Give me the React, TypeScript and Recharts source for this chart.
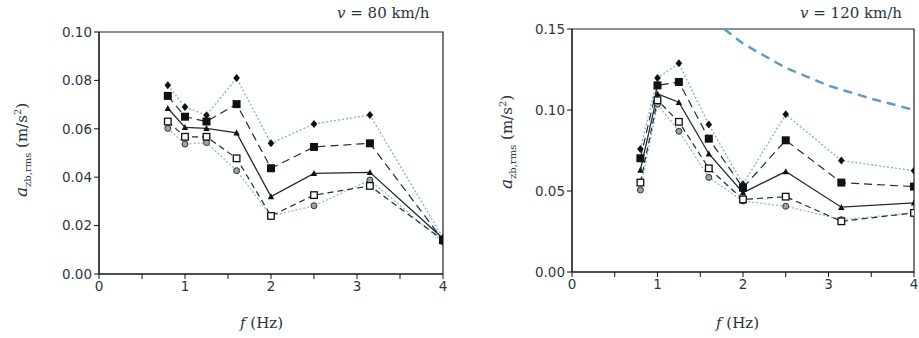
import React from "react";
import {
  ComposedChart,
  Line,
  XAxis,
  YAxis,
  ReferenceArea,
} from "recharts";

// third-octave centre frequencies (Hz)
const FREQ = [0.8, 1, 1.25, 1.6, 2, 2.5, 3.15, 4];

// v = 80 km/h
const V80_DIAMOND = [0.078, 0.069, 0.0656, 0.081, 0.054, 0.062, 0.0657, 0.015];
const V80_FSQUARE = [0.0736, 0.065, 0.063, 0.0702, 0.0437, 0.0525, 0.054, 0.014];
const V80_TRIANGLE = [0.0685, 0.0606, 0.0602, 0.0583, 0.032, 0.0416, 0.042, 0.0147];
const V80_OSQUARE = [0.063, 0.0567, 0.0567, 0.0478, 0.024, 0.0326, 0.0364, 0.014];
const V80_CIRCLE = [0.0602, 0.0537, 0.0543, 0.0427, 0.024, 0.0282, 0.0388, 0.0133];

// v = 120 km/h
const V120_DIAMOND = [0.076, 0.1198, 0.1288, 0.091, 0.0542, 0.0973, 0.0688, 0.0625];
const V120_FSQUARE = [0.0702, 0.1152, 0.1173, 0.0823, 0.052, 0.0813, 0.0552, 0.0527];
const V120_TRIANGLE = [0.063, 0.11, 0.1048, 0.073, 0.049, 0.062, 0.04, 0.0427];
const V120_OSQUARE = [0.0552, 0.106, 0.0927, 0.064, 0.0448, 0.0465, 0.0313, 0.0365];
const V120_CIRCLE = [0.0506, 0.1036, 0.0869, 0.0584, 0.0438, 0.0406, 0.0323, 0.0365];

// limit curve (right panel)
const LIMIT_F = [1.78, 2, 2.5, 3, 3.5, 4];
const LIMIT_A = [0.15, 0.141, 0.126, 0.115, 0.107, 0.1];

const X_TICKS = [0, 0.5, 1, 1.5, 2, 2.5, 3, 3.5, 4];
const Y_TICKS_80 = [0, 0.02, 0.04, 0.06, 0.08, 0.1];
const Y_TICKS_120 = [0, 0.05, 0.1, 0.15];

const DARK = "#1d2d34";
const LIGHT = "#86b7d2";
const SANS = "DejaVu Sans, sans-serif";
const SERIF = "DejaVu Serif, serif";

const rows = (a: number[], b: number[], c: number[], d: number[], e: number[]) =>
  FREQ.map((f, i) => ({ f, dia: a[i], fsq: b[i], tri: c[i], osq: d[i], cir: e[i] }));

const data80 = rows(V80_DIAMOND, V80_FSQUARE, V80_TRIANGLE, V80_OSQUARE, V80_CIRCLE);
const data120 = rows(V120_DIAMOND, V120_FSQUARE, V120_TRIANGLE, V120_OSQUARE, V120_CIRCLE);
const limit = LIMIT_F.map((f, i) => ({ f, lim: LIMIT_A[i] }));

const Diamond = (p: any) => (
  <path
    d={`M${p.cx},${p.cy - 4} L${p.cx + 3.3},${p.cy} L${p.cx},${p.cy + 4} L${p.cx - 3.3},${p.cy} Z`}
    fill="#111"
  />
);
const FSquare = (p: any) => (
  <rect x={p.cx - 4} y={p.cy - 4} width={8} height={8} fill="#111" />
);
const Tri = (p: any) => (
  <path d={`M${p.cx},${p.cy - 3.3} L${p.cx + 3.2},${p.cy + 2.7} L${p.cx - 3.2},${p.cy + 2.7} Z`} fill="#111" />
);
const OSquare = (p: any) => (
  <rect x={p.cx - 3.3} y={p.cy - 3.3} width={6.6} height={6.6} fill="#fff" stroke="#111" strokeWidth={1.3} />
);
const Circ = (p: any) => (
  <circle cx={p.cx} cy={p.cy} r={3} fill="#9aa3a8" stroke="#333" strokeWidth={1} />
);

type PanelProps = {
  data: typeof data80;
  yMax: number;
  yTicks: number[];
  margin: { top: number; right: number; left: number; bottom: number };
  width: number;
  showLimit?: boolean;
};

function Panel({ data, yMax, yTicks, margin, width, showLimit }: PanelProps) {
  const tick = { fontSize: 13.5, fill: "#2a3a42", fontFamily: SANS };
  return (
    <ComposedChart width={width} height={338} data={data} margin={margin}>
      <XAxis
        dataKey="f"
        type="number"
        domain={[0, 4]}
        ticks={X_TICKS}
        allowDataOverflow
        tickFormatter={(v: number) => (Number.isInteger(v) ? String(v) : "")}
        tick={tick}
        stroke="#111"
        tickSize={5}
        height={30}
      />
      <YAxis
        type="number"
        domain={[0, yMax]}
        ticks={yTicks}
        allowDataOverflow
        tickFormatter={(v: number) => v.toFixed(2)}
        tick={tick}
        stroke="#111"
        tickSize={5}
        width={60}
      />
      <ReferenceArea x1={0} x2={4} y1={0} y2={yMax} fill="none" stroke="#222" strokeWidth={1.2} />
      {showLimit && (
        <Line
          data={limit}
          dataKey="lim"
          stroke="#5b9ec5"
          strokeWidth={2.5}
          strokeDasharray="9 6"
          dot={false}
          isAnimationActive={false}
        />
      )}
      <Line dataKey="cir" stroke={LIGHT} strokeWidth={1.2} strokeDasharray="2 2" dot={<Circ />} isAnimationActive={false} />
      <Line dataKey="dia" stroke={LIGHT} strokeWidth={1.4} strokeDasharray="2 2" dot={<Diamond />} isAnimationActive={false} />
      <Line dataKey="osq" stroke={DARK} strokeWidth={1.2} strokeDasharray="6 4" dot={<OSquare />} isAnimationActive={false} />
      <Line dataKey="fsq" stroke={DARK} strokeWidth={1.2} strokeDasharray="8 5" dot={<FSquare />} isAnimationActive={false} />
      <Line dataKey="tri" stroke={DARK} strokeWidth={1.3} dot={<Tri />} isAnimationActive={false} />
    </ComposedChart>
  );
}

const YLabel = ({ left, top }: { left: number; top: number }) => (
  <div
    style={{
      position: "absolute",
      left,
      top,
      transform: "translate(-50%, -50%) rotate(-90deg)",
      whiteSpace: "nowrap",
      fontFamily: SERIF,
      fontSize: 15,
      color: "#1f3540",
    }}
  >
    <i style={{ fontSize: 17 }}>a</i>
    <sub style={{ fontSize: 10 }}>zb,rms</sub> (m/s<sup style={{ fontSize: 10 }}>2</sup>)
  </div>
);

const Text = ({ left, top, children }: { left: number; top: number; children: React.ReactNode }) => (
  <div
    style={{
      position: "absolute",
      left,
      top,
      whiteSpace: "nowrap",
      fontFamily: SERIF,
      fontSize: 15,
      color: "#1f3540",
      lineHeight: 1,
    }}
  >
    {children}
  </div>
);

export default function App() {
  return (
    <div style={{ position: "absolute", left: 0, top: 0, width: 919, height: 338, background: "#fff", overflow: "hidden" }}>
      <div style={{ position: "absolute", left: 0, top: 0 }}>
        <Panel
          data={data80}
          yMax={0.1}
          yTicks={Y_TICKS_80}
          width={460}
          margin={{ top: 32, right: 17, left: 39, bottom: 34 }}
        />
      </div>
      <div style={{ position: "absolute", left: 460, top: 0 }}>
        <Panel
          data={data120}
          yMax={0.15}
          yTicks={Y_TICKS_120}
          width={465}
          margin={{ top: 29, right: 11, left: 52, bottom: 36 }}
          showLimit
        />
      </div>
      <YLabel left={22} top={150} />
      <YLabel left={507} top={142} />
      <Text left={337} top={6}>
        <i>v</i> = 80 km/h
      </Text>
      <Text left={800} top={6}>
        <i>v</i> = 120 km/h
      </Text>
      <Text left={240} top={316}>
        <i>f</i> (Hz)
      </Text>
      <Text left={716} top={316}>
        <i>f</i> (Hz)
      </Text>
    </div>
  );
}
